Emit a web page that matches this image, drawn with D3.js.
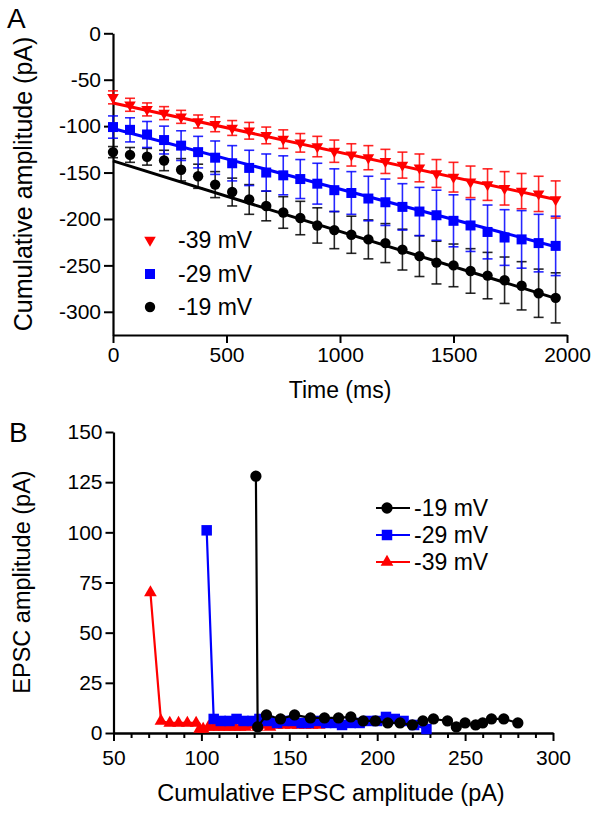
<!DOCTYPE html>
<html><head><meta charset="utf-8">
<script src="https://cdn.jsdelivr.net/npm/d3@7"></script>
<style>
body{margin:0;background:#fff}
svg{display:block}
text{font-family:"Liberation Sans",Arial,sans-serif;fill:#000}
</style>
</head><body>
<svg id="c" width="602" height="814"></svg>
<script>
// ---------- Panel A data ----------
const timeMs = [0,75,150,225,300,375,450,525,600,675,750,825,900,975,1050,1125,1200,1275,1350,1425,1500,1575,1650,1725,1800,1875,1950];
const cum39 = [-69,-77,-82,-86,-90,-95,-98,-102,-105,-110,-114,-118,-122,-127,-131,-134,-138,-142,-145,-151,-155,-160,-163,-167,-170,-173,-179];
const err39 = [7,7,7,7,7,7,8,8,9,9,10,10,11,12,12,13,13,14,15,15,16,17,17,18,19,19,20];
const cum29 = [-101,-104,-109,-115,-121,-128,-134,-140,-145,-150,-153,-157,-162,-169,-172,-178,-182,-187,-192,-196,-202,-207,-214,-220,-222,-226,-229];
const err29 = [12,13,14,15,16,17,18,19,19,20,21,21,22,23,23,24,25,25,26,27,28,28,29,30,31,31,32];
const cum19 = [-128,-131,-133,-137,-147,-154,-163,-171,-179,-186,-193,-199,-207,-212,-217,-222,-226,-233,-240,-247,-250,-256,-261,-266,-272,-280,-285];
const err19 = [6,8,9,11,12,13,14,15,16,16,17,18,19,20,20,21,21,22,22,23,23,24,25,25,26,26,27];
// linear fits: value at t=0 and at t=1950
const fitStart = [-75,-102.5,-137.5];
const fitEnd = [-179,-230,-285.5];
const seriesNamesA = ["-39 mV","-29 mV","-19 mV"];
const xTicksA = [0,500,1000,1500,2000];
const yTicksA = [0,-50,-100,-150,-200,-250,-300];

// ---------- Panel B data ----------
const cumB39 = [71,77,82,87,92,97,99,101,104,107,110,113,116,119,122,125,129,132,136,139,143,147,151,155,159,163,167];
const ampB39 = [70,6,5,5,5,5,2,2,3,3,3,3,3,3,3,3,4,3,4,3,4,4,4,4,4,4,4];
const cumB29 = [103,107,111,116,120,124,129,133,138,143,147,152,157,161,166,171,176,180,185,190,195,200,205,210,215,221,228];
const ampB29 = [101,7,6,6,7,6,6,7,6,5,6,6,5,5,6,5,5,4,5,5,6,6,8,7,6,4,2];
const cumB19 = [131,132,137,145,153,162,170,178,185,192,199,206,213,220,226,232,240,245,250,256,260,265,272,280];
const ampB19 = [128,3,9,7,9,7.5,7.5,7.5,8,6,6,5,5,4,6,7,6,3,5,4,5,7,7,5];
const seriesNamesB = ["-19 mV","-29 mV","-39 mV"];
const xTicksB = [50,100,150,200,250,300];
const xMinorTicksB = [60,70,80,90,110,120,130,140,160,170,180,190,210,220,230,240,260,270,280,290];
const yTicksB = [0,25,50,75,100,125,150];

const svg = d3.select('#c');
const FONT_T = 21;

function styleAxis(g){
  g.select('.domain').attr('stroke','#000').attr('stroke-width',2.2);
  g.selectAll('.tick line').attr('stroke','#000').attr('stroke-width',2);
  g.selectAll('.tick text').attr('font-size',FONT_T).attr('font-family','Liberation Sans, Arial, sans-serif').attr('fill','#000');
}

// ================= Panel A =================
const xA = d3.scaleLinear().domain([0,2000]).range([113,567]);
const yA = d3.scaleLinear().domain([-325,0]).range([335,33.3]);

const gA = svg.append('g');
const axYA = gA.append('g').attr('transform','translate(113,0)')
  .call(d3.axisLeft(yA).tickValues(yTicksA).tickSize(9).tickSizeOuter(0).tickPadding(3).tickFormat(d3.format('d')));
styleAxis(axYA);
axYA.selectAll('.tick text').text(d=>d===0?'0':('-'+Math.abs(d)));
const axXA = gA.append('g').attr('transform','translate(0,335)')
  .call(d3.axisBottom(xA).tickValues(xTicksA).tickSize(8).tickSizeOuter(0).tickPadding(4).tickFormat(d3.format('d')));
styleAxis(axXA);

const colorsA = ['#ff0000','#0000ff','#000000'];
const dataA = [cum39,cum29,cum19];
const errA = [err39,err29,err19];
const symA = [
  d3.symbol().type(d3.symbolTriangle).size(58),
  d3.symbol().type(d3.symbolSquare).size(100),
  d3.symbol().type(d3.symbolCircle).size(85)
];
const rotA = [180,0,0];

// draw black first, red last
[2,1,0].forEach(k=>{
  const g = gA.append('g');
  const eb = g.append('g').attr('stroke',colorsA[k]).attr('stroke-width',1.6).attr('stroke-opacity',0.85);
  timeMs.forEach((t,i)=>{
    const x = xA(t), v = dataA[k][i], e = errA[k][i];
    eb.append('line').attr('x1',x).attr('x2',x).attr('y1',yA(v+e)).attr('y2',yA(v-e));
    eb.append('line').attr('x1',x-5).attr('x2',x+5).attr('y1',yA(v+e)).attr('y2',yA(v+e));
    eb.append('line').attr('x1',x-5).attr('x2',x+5).attr('y1',yA(v-e)).attr('y2',yA(v-e));
  });
  g.append('line').attr('x1',xA(timeMs[0])).attr('x2',xA(timeMs[timeMs.length-1]))
    .attr('y1',yA(fitStart[k])).attr('y2',yA(fitEnd[k]))
    .attr('stroke',colorsA[k]).attr('stroke-width',3);
  g.selectAll('path.m').data(timeMs).enter().append('path')
    .attr('d',symA[k]())
    .attr('transform',(t,i)=>`translate(${xA(t)},${yA(dataA[k][i])}) rotate(${rotA[k]})`)
    .attr('fill',colorsA[k]);
});

// legend A
const legA = gA.append('g');
seriesNamesA.forEach((n,k)=>{
  const y = [240,274,307][k];
  legA.append('path').attr('d',symA[k]()).attr('fill',colorsA[k])
    .attr('transform',`translate(150,${y}) rotate(${rotA[k]})`);
  legA.append('text').attr('x',178).attr('y',y).attr('dy','0.36em').attr('font-size',23).text(n);
});

// titles A
gA.append('text').attr('x',340).attr('y',398).attr('text-anchor','middle').attr('font-size',23).text('Time (ms)');
gA.append('text').attr('transform','translate(32,184) rotate(-90)').attr('text-anchor','middle').attr('font-size',25).text('Cumulative amplitude (pA)');
svg.append('text').attr('x',7).attr('y',28).attr('font-size',28).text('A');

// ================= Panel B =================
const xB = d3.scaleLinear().domain([50,300]).range([113.5,553]);
const yB = d3.scaleLinear().domain([0,150]).range([733,432]);
const gB = svg.append('g');
const axYB = gB.append('g').attr('transform','translate(113.5,0)')
  .call(d3.axisLeft(yB).tickValues(yTicksB).tickSize(8).tickSizeOuter(0).tickPadding(3));
styleAxis(axYB);
const axXBm = gB.append('g').attr('transform','translate(0,733)')
  .call(d3.axisBottom(xB).tickValues(xMinorTicksB).tickSize(5).tickSizeOuter(0).tickFormat(''));
styleAxis(axXBm);
const axXB = gB.append('g').attr('transform','translate(0,733)')
  .call(d3.axisBottom(xB).tickValues(xTicksB).tickSize(8).tickSizeOuter(0).tickPadding(9));
styleAxis(axXB);

const colorsB = {"-19 mV":'#000000',"-29 mV":'#0000ff',"-39 mV":'#ff0000'};
const symB = {
  "-19 mV": d3.symbol().type(d3.symbolCircle).size(100),
  "-29 mV": d3.symbol().type(d3.symbolSquare).size(110),
  "-39 mV": d3.symbol().type(d3.symbolTriangle).size(70)
};
const dataB = {
  "-19 mV": cumB19.map((c,i)=>[c,ampB19[i]]),
  "-29 mV": cumB29.map((c,i)=>[c,ampB29[i]]),
  "-39 mV": cumB39.map((c,i)=>[c,ampB39[i]])
};
const line = d3.line().x(d=>xB(d[0])).y(d=>yB(d[1]));
["-39 mV","-29 mV","-19 mV"].forEach(n=>{
  const g = gB.append('g');
  g.append('path').datum(dataB[n]).attr('d',line).attr('fill','none')
    .attr('stroke',colorsB[n]).attr('stroke-width',2.2);
  g.selectAll('path.m').data(dataB[n]).enter().append('path')
    .attr('d',symB[n]()).attr('fill',colorsB[n])
    .attr('transform',d=>`translate(${xB(d[0])},${yB(d[1])})`);
});

// legend B
seriesNamesB.forEach((n,k)=>{
  const y = [508,535,562][k];
  gB.append('line').attr('x1',376).attr('x2',410).attr('y1',y).attr('y2',y)
    .attr('stroke',colorsB[n]).attr('stroke-width',2.2);
  gB.append('path').attr('d',symB[n]()).attr('fill',colorsB[n]).attr('transform',`translate(387,${y})`);
  gB.append('text').attr('x',414).attr('y',y).attr('dy','0.36em').attr('font-size',23).text(n);
});

gB.append('text').attr('x',331).attr('y',801).attr('text-anchor','middle').attr('font-size',23.5).text('Cumulative EPSC amplitude (pA)');
gB.append('text').attr('transform','translate(30,582) rotate(-90)').attr('text-anchor','middle').attr('font-size',23.5).text('EPSC amplitude (pA)');
svg.append('text').attr('x',9).attr('y',442).attr('font-size',28).text('B');
</script>
</body></html>
